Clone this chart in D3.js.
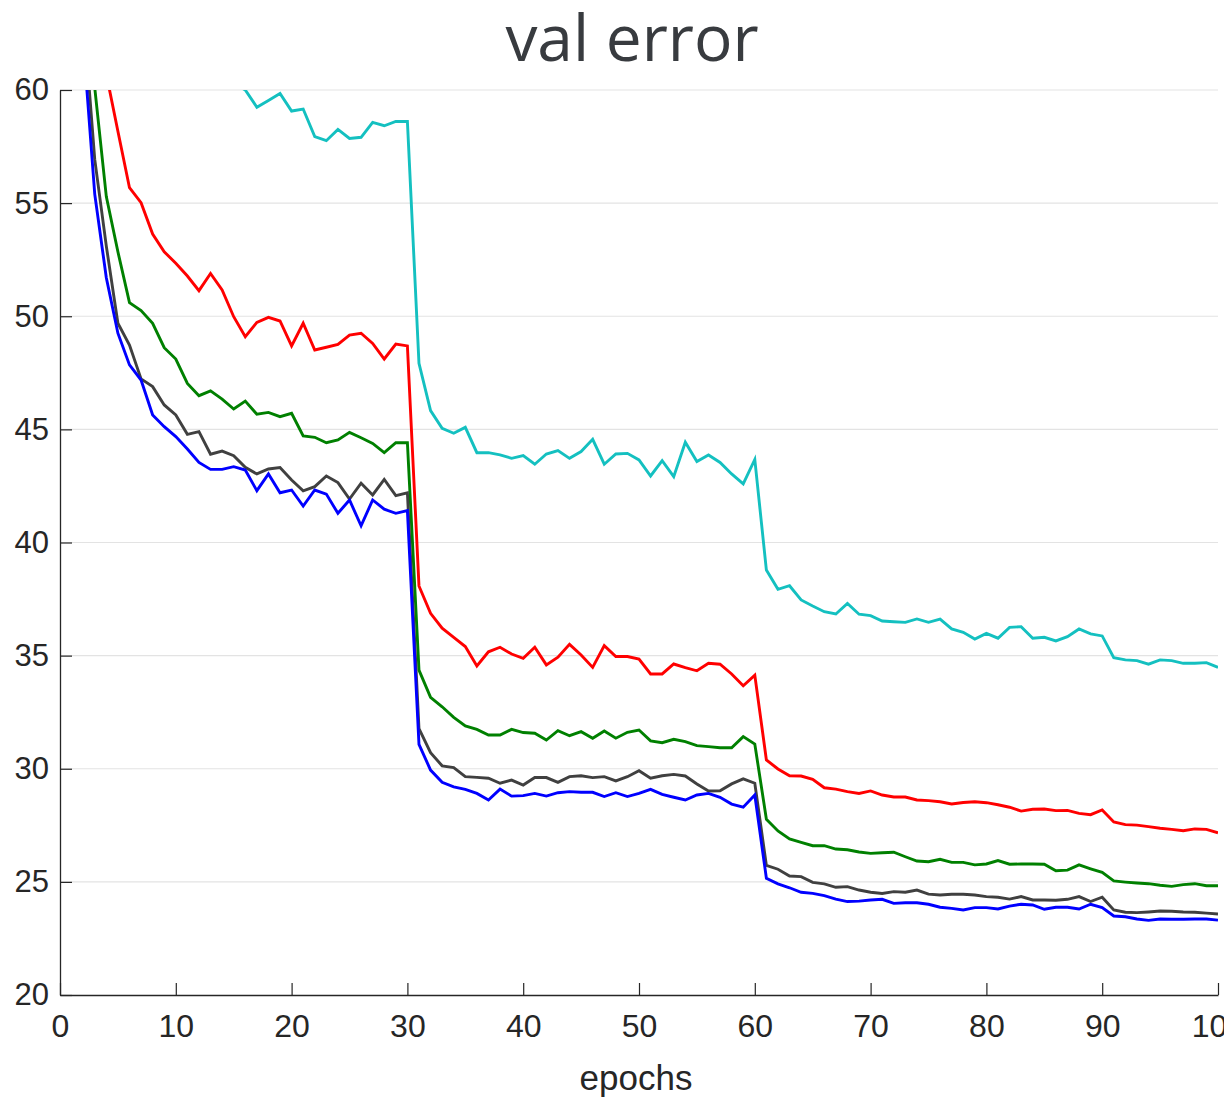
<!DOCTYPE html>
<html>
<head>
<meta charset="utf-8">
<script src="https://cdn.jsdelivr.net/npm/d3@7"></script>
<style>
  html, body { margin: 0; padding: 0; background: #ffffff; }
  svg { display: block; }
</style>
</head>
<body>
<script>
// Validation error (%) per training epoch for five runs.
const epochs = d3.range(1, 101);

const cyanErr = [
  92.0, 84.0, 78.5, 74.0, 70.6, 68.0, 66.1, 64.7, 63.6, 62.8,
  62.1, 61.5, 61.0, 60.6, 60.3, 60.0, 59.24, 59.54, 59.85, 59.07,
  59.16, 57.94, 57.76, 58.26, 57.86, 57.91, 58.57, 58.42, 58.61, 58.61,
  47.92, 45.83, 45.05, 44.83, 45.09, 43.97, 43.97, 43.87, 43.72, 43.84,
  43.46, 43.91, 44.06, 43.72, 44.02, 44.56, 43.46, 43.91, 43.94, 43.65,
  42.94, 43.62, 42.91, 44.43, 43.58, 43.87, 43.54, 43.03, 42.59, 43.67,
  38.78, 37.93, 38.09, 37.46, 37.19, 36.94, 36.84, 37.31, 36.83, 36.77,
  36.53, 36.50, 36.47, 36.62, 36.47, 36.61, 36.18, 36.03, 35.73, 35.98,
  35.77, 36.25, 36.28, 35.77, 35.81, 35.65, 35.84, 36.18, 35.96, 35.87,
  34.91, 34.81, 34.78, 34.62, 34.81, 34.78, 34.66, 34.66, 34.69, 34.48
];

const redErr = [
  86.0, 74.0, 65.5, 60.7, 58.18, 55.68, 55.02, 53.63, 52.85, 52.34,
  51.78, 51.13, 51.89, 51.16, 49.98, 49.10, 49.73, 49.95, 49.79, 48.69,
  49.69, 48.51, 48.63, 48.76, 49.17, 49.25, 48.80, 48.11, 48.77, 48.69,
  38.08, 36.87, 36.21, 35.81, 35.40, 34.54, 35.17, 35.37, 35.07, 34.88,
  35.37, 34.59, 34.93, 35.50, 35.03, 34.48, 35.44, 34.96, 34.96, 34.85,
  34.19, 34.19, 34.63, 34.47, 34.33, 34.66, 34.62, 34.19, 33.67, 34.14,
  30.39, 29.99, 29.69, 29.68, 29.53, 29.16, 29.10, 28.99, 28.91, 29.02,
  28.84, 28.75, 28.75, 28.62, 28.59, 28.54, 28.44, 28.51, 28.54, 28.50,
  28.41, 28.30, 28.13, 28.21, 28.22, 28.15, 28.16, 28.03, 27.97, 28.18,
  27.65, 27.53, 27.51, 27.44, 27.37, 27.32, 27.26, 27.34, 27.32, 27.17
];

const greenErr = [
  78.0, 67.0, 60.1, 55.29, 52.85, 50.60, 50.25, 49.69, 48.61, 48.11,
  47.03, 46.49, 46.70, 46.34, 45.90, 46.25, 45.67, 45.75, 45.56, 45.71,
  44.71, 44.65, 44.41, 44.53, 44.87, 44.63, 44.38, 43.97, 44.41, 44.41,
  34.36, 33.16, 32.74, 32.27, 31.89, 31.74, 31.49, 31.49, 31.74, 31.60,
  31.57, 31.27, 31.68, 31.46, 31.64, 31.35, 31.67, 31.35, 31.61, 31.71,
  31.23, 31.15, 31.30, 31.20, 31.02, 30.98, 30.93, 30.93, 31.42, 31.09,
  27.77, 27.25, 26.90, 26.75, 26.60, 26.60, 26.45, 26.42, 26.32, 26.26,
  26.29, 26.31, 26.11, 25.92, 25.89, 26.00, 25.86, 25.86, 25.75, 25.79,
  25.94, 25.78, 25.79, 25.79, 25.78, 25.49, 25.52, 25.75, 25.58, 25.42,
  25.04, 24.99, 24.95, 24.92, 24.85, 24.80, 24.88, 24.92, 24.83, 24.83
];

const grayErr = [
  74.0, 63.5, 56.93, 53.1, 49.69, 48.73, 47.23, 46.89, 46.08, 45.64,
  44.78, 44.90, 43.90, 44.04, 43.84, 43.32, 43.03, 43.25, 43.31, 42.76,
  42.28, 42.47, 42.94, 42.65, 41.92, 42.62, 42.10, 42.79, 42.07, 42.20,
  31.77, 30.71, 30.13, 30.05, 29.65, 29.62, 29.58, 29.36, 29.50, 29.28,
  29.61, 29.61, 29.40, 29.65, 29.69, 29.61, 29.65, 29.46, 29.65, 29.91,
  29.58, 29.69, 29.75, 29.68, 29.33, 29.02, 29.03, 29.33, 29.55, 29.36,
  25.73, 25.56, 25.26, 25.23, 24.98, 24.91, 24.76, 24.79, 24.64, 24.54,
  24.49, 24.57, 24.54, 24.64, 24.46, 24.42, 24.45, 24.45, 24.42, 24.35,
  24.32, 24.24, 24.35, 24.20, 24.20, 24.19, 24.23, 24.35, 24.13, 24.32,
  23.76, 23.66, 23.64, 23.67, 23.71, 23.70, 23.67, 23.66, 23.62, 23.58
];

const blueErr = [
  73.0, 62.2, 55.4, 51.7, 49.25, 47.85, 47.18, 45.64, 45.12, 44.68,
  44.13, 43.54, 43.23, 43.23, 43.35, 43.20, 42.29, 43.03, 42.20, 42.32,
  41.61, 42.32, 42.14, 41.29, 41.88, 40.74, 41.88, 41.47, 41.29, 41.41,
  31.08, 29.94, 29.40, 29.20, 29.09, 28.91, 28.62, 29.10, 28.79, 28.81,
  28.91, 28.79, 28.94, 28.99, 28.96, 28.96, 28.77, 28.94, 28.77, 28.91,
  29.09, 28.87, 28.74, 28.62, 28.84, 28.91, 28.74, 28.44, 28.30, 28.84,
  25.16, 24.91, 24.74, 24.54, 24.49, 24.39, 24.24, 24.13, 24.15, 24.20,
  24.23, 24.05, 24.08, 24.08, 24.01, 23.88, 23.83, 23.76, 23.86, 23.86,
  23.80, 23.93, 24.01, 23.98, 23.79, 23.88, 23.88, 23.80, 24.01, 23.86,
  23.49, 23.46, 23.36, 23.30, 23.36, 23.35, 23.35, 23.36, 23.36, 23.31
];

const seriesList = [
  { name: "cyan",  color: "#14C0C0", values: cyanErr },
  { name: "red",   color: "#FF0000", values: redErr },
  { name: "green", color: "#008000", values: greenErr },
  { name: "gray",  color: "#404040", values: grayErr },
  { name: "blue",  color: "#0000FF", values: blueErr }
];

const xTicks = [0, 10, 20, 30, 40, 50, 60, 70, 80, 90, 100];
const yTicks = [20, 25, 30, 35, 40, 45, 50, 55, 60];

const titleText = "val error";
const xLabelText = "epochs";

// Layout
const W = 1224, H = 1100;
const plotLeft = 60, plotRight = 1218, plotTop = 90, plotBottom = 995;

const svg = d3.select("body").append("svg")
  .attr("width", W).attr("height", H);

const x = d3.scaleLinear().domain([0, 100]).range([plotLeft, plotRight]);
const y = d3.scaleLinear().domain([20, 60]).range([plotBottom, plotTop]);

// Horizontal grid
svg.append("g")
  .selectAll("line")
  .data(yTicks.filter(t => t > 20))
  .join("line")
  .attr("x1", plotLeft).attr("x2", plotRight)
  .attr("y1", d => y(d)).attr("y2", d => y(d))
  .attr("stroke", "#e3e3e3")
  .attr("stroke-width", 1.2);

// Clip region for the curves
svg.append("defs").append("clipPath").attr("id", "plotClip")
  .append("rect")
  .attr("x", plotLeft).attr("y", plotTop)
  .attr("width", plotRight - plotLeft).attr("height", plotBottom - plotTop);

const line = d3.line()
  .x((d, i) => x(epochs[i]))
  .y(d => y(d));

svg.append("g").attr("clip-path", "url(#plotClip)")
  .selectAll("path")
  .data(seriesList)
  .join("path")
  .attr("d", s => line(s.values))
  .attr("fill", "none")
  .attr("stroke", s => s.color)
  .attr("stroke-width", 2.9)
  .attr("stroke-linejoin", "miter")
  .attr("stroke-linecap", "butt");

const axisColor = "#262626";
const tickFont = "'Liberation Sans', Arial, Helvetica, sans-serif";

// Bottom axis with inward ticks
const gx = svg.append("g")
  .attr("transform", `translate(0,${plotBottom})`)
  .call(d3.axisBottom(x).tickValues(xTicks).tickSize(-12).tickPadding(19).tickSizeOuter(0));
gx.select(".domain").attr("stroke", axisColor).attr("stroke-width", 1.3);
gx.selectAll(".tick line").attr("stroke", axisColor).attr("stroke-width", 1.2);
gx.selectAll(".tick text")
  .attr("fill", axisColor)
  .style("font-family", tickFont)
  .style("font-size", "32px");

// Left axis with inward ticks
const gy = svg.append("g")
  .attr("transform", `translate(${plotLeft},0)`)
  .call(d3.axisLeft(y).tickValues(yTicks).tickSize(-12).tickPadding(11).tickSizeOuter(0));
gy.select(".domain").attr("stroke", axisColor).attr("stroke-width", 1.3);
gy.selectAll(".tick line").attr("stroke", axisColor).attr("stroke-width", 1.2);
gy.selectAll(".tick text")
  .attr("fill", axisColor)
  .style("font-family", tickFont)
  .style("font-size", "31px");

// Axis label
svg.append("text")
  .attr("x", 636).attr("y", 1090)
  .attr("text-anchor", "middle")
  .attr("fill", axisColor)
  .style("font-family", tickFont)
  .style("font-size", "35px")
  .text(xLabelText);

// Title
svg.append("text")
  .attr("x", 632).attr("y", 61)
  .attr("text-anchor", "middle")
  .attr("fill", "#383b3f")
  .style("font-family", "'Open Sans', sans-serif")
  .style("font-size", "64px")
  .text(titleText);
</script>
</body>
</html>
